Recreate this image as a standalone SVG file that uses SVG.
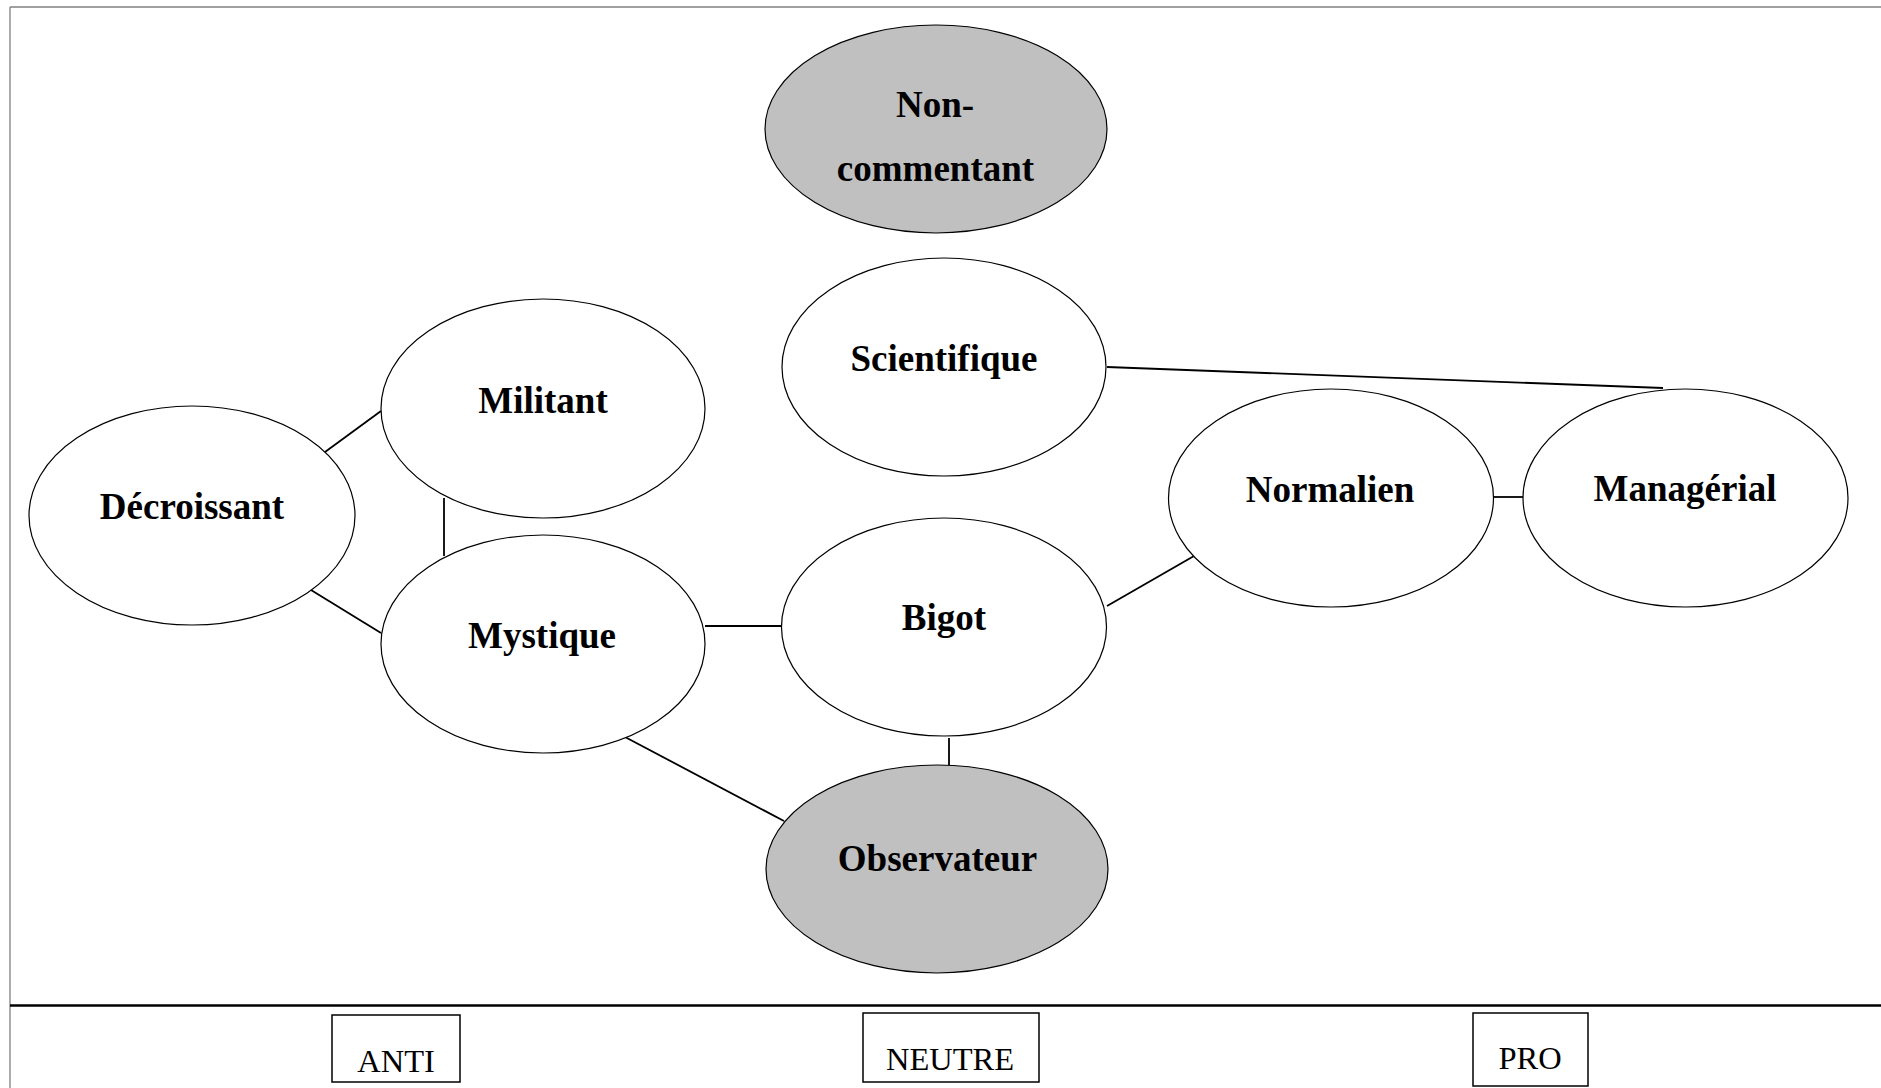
<svg xmlns="http://www.w3.org/2000/svg" width="1881" height="1088" viewBox="0 0 1881 1088">
<style>
.node{stroke:#000;stroke-width:1.2;fill:#fff}
.grey{fill:#c0c0c0}
.lbl{font-family:"Liberation Serif","Times New Roman",serif;font-weight:bold;font-size:37px;text-anchor:middle;fill:#000}
.conn line{stroke:#000;stroke-width:1.8}
.box{fill:#fff;stroke:#000;stroke-width:1.5}
.axis{font-family:"Liberation Serif","Times New Roman",serif;font-size:32.5px;text-anchor:middle;fill:#000}
</style>
<rect width="1881" height="1088" fill="#fff"/>
<g id="frame">
<line x1="10" y1="7" x2="1881" y2="7" stroke="#808080" stroke-width="1.3"/>
<line x1="10" y1="7" x2="10" y2="1088" stroke="#808080" stroke-width="1.3"/>
<line x1="10" y1="1005.5" x2="1881" y2="1005.5" stroke="#000" stroke-width="2.5"/>
</g>
<g id="connectors" class="conn">
<line x1="325" y1="452" x2="381" y2="411"/>
<line x1="444" y1="498" x2="444" y2="556"/>
<line x1="311" y1="590" x2="381" y2="633"/>
<line x1="705" y1="626" x2="783" y2="626"/>
<line x1="625" y1="737" x2="784" y2="821"/>
<line x1="949" y1="738" x2="949" y2="765"/>
<line x1="1107" y1="606" x2="1194" y2="556"/>
<line x1="1493" y1="497" x2="1523" y2="497"/>
<line x1="1107" y1="367" x2="1663" y2="388"/>
</g>
<g id="node-noncommentant">
<ellipse class="node grey" cx="936" cy="129" rx="171" ry="104"/>
<text class="lbl" x="935" y="117">Non-</text>
<text class="lbl" x="935.5" y="181">commentant</text>
</g>
<g id="node-scientifique">
<ellipse class="node" cx="944" cy="367" rx="162" ry="109"/>
<text class="lbl" x="944" y="371">Scientifique</text>
</g>
<g id="node-militant">
<ellipse class="node" cx="543" cy="408.5" rx="162" ry="109.5"/>
<text class="lbl" x="543" y="412.5">Militant</text>
</g>
<g id="node-decroissant">
<ellipse class="node" cx="192" cy="515.5" rx="163" ry="109.5"/>
<text class="lbl" x="192" y="519">Décroissant</text>
</g>
<g id="node-mystique">
<ellipse class="node" cx="543" cy="644" rx="162" ry="109"/>
<text class="lbl" x="542" y="648">Mystique</text>
</g>
<g id="node-bigot">
<ellipse class="node" cx="944" cy="627" rx="162.5" ry="109"/>
<text class="lbl" x="944" y="629.5">Bigot</text>
</g>
<g id="node-normalien">
<ellipse class="node" cx="1331" cy="498" rx="162.5" ry="109"/>
<text class="lbl" x="1330" y="501.5">Normalien</text>
</g>
<g id="node-managerial">
<ellipse class="node" cx="1685.5" cy="498" rx="162.5" ry="109"/>
<text class="lbl" x="1685" y="500.5">Managérial</text>
</g>
<g id="node-observateur">
<ellipse class="node grey" cx="937" cy="869" rx="171" ry="104"/>
<text class="lbl" x="937.5" y="871">Observateur</text>
</g>
<g id="label-anti">
<rect class="box" x="332" y="1015" width="128" height="67"/>
<text class="axis" x="396" y="1072">ANTI</text>
</g>
<g id="label-neutre">
<rect class="box" x="863" y="1013" width="176" height="69"/>
<text class="axis" x="950" y="1070">NEUTRE</text>
</g>
<g id="label-pro">
<rect class="box" x="1473" y="1013" width="115" height="73"/>
<text class="axis" x="1530" y="1069">PRO</text>
</g>
</svg>
